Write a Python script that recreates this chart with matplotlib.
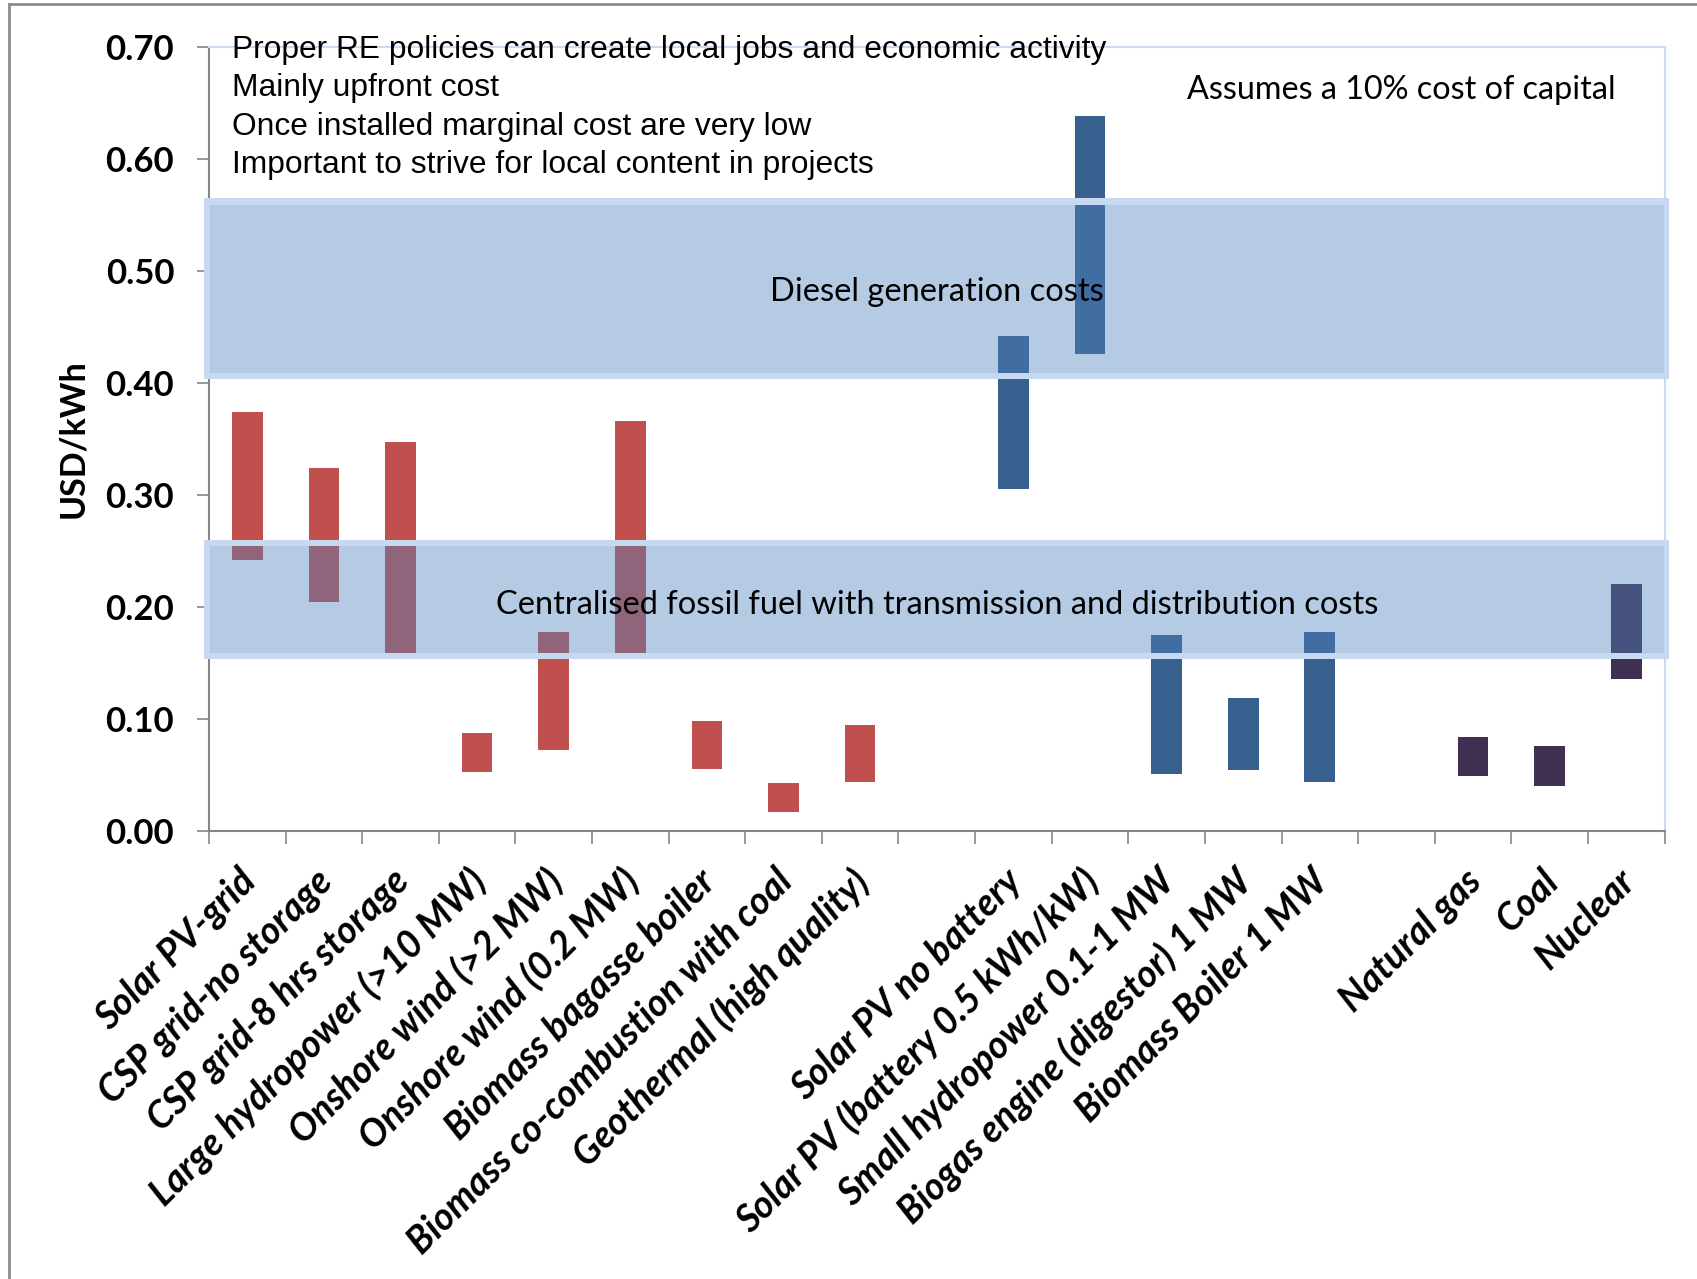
import matplotlib
matplotlib.use("Agg")
import matplotlib.pyplot as plt
from matplotlib.path import Path
from matplotlib.patches import PathPatch, Rectangle
from matplotlib.lines import Line2D
from matplotlib.transforms import ScaledTranslation

# technologies (blank entries are gaps between groups)
techs = ["Solar PV-grid", "CSP grid-no storage", "CSP grid-8 hrs storage",
         "Large hydropower (>10 MW)", "Onshore wind (>2 MW)", "Onshore wind (0.2 MW)",
         "Biomass bagasse boiler", "Biomass co-combustion with coal",
         "Geothermal (high quality)", "",
         "Solar PV no battery", "Solar PV (battery 0.5 kWh/kW)",
         "Small hydropower 0.1-1 MW", "Biogas engine (digestor) 1 MW",
         "Biomass Boiler 1 MW", "",
         "Natural gas", "Coal", "Nuclear"]
# cost ranges in USD/kWh
low = [0.242, 0.204, 0.159, 0.053, 0.072, 0.158, 0.055, 0.017, 0.044, None,
       0.305, 0.426, 0.051, 0.054, 0.044, None, 0.049, 0.040, 0.136]
high = [0.374, 0.324, 0.347, 0.087, 0.178, 0.366, 0.098, 0.043, 0.095, None,
        0.442, 0.638, 0.175, 0.119, 0.178, None, 0.084, 0.076, 0.220]
group = ["grid"] * 10 + ["offgrid"] * 6 + ["fossil"] * 3

diesel_range = (0.409, 0.559)
fossil_range = (0.159, 0.254)

notes = ["Proper RE policies can create local jobs and economic activity",
         "Mainly upfront cost",
         "Once installed marginal cost are very low",
         "Important to strive for local content in projects"]

colors = {"grid": "#C0504D", "offgrid": "#37608F", "fossil": "#403152"}

fig = plt.figure(figsize=(16.97, 12.79), dpi=100)
ax = fig.add_axes([0.1231, 0.3503, 0.8578, 0.6133])

for i, (lo, hi) in enumerate(zip(low, high)):
    if lo is None:
        continue
    ax.bar(i, hi - lo, bottom=lo, width=0.4, color=colors[group[i]], zorder=2)


def band(lo, hi, text, ty):
    x0, x1 = -0.49, 18.49
    dx, dy = 0.07, 0.0055
    outer = [(x0 - dx, lo - dy), (x1 + dx, lo - dy), (x1 + dx, hi + dy), (x0 - dx, hi + dy), (0, 0)]
    inner = [(x0, lo), (x0, hi), (x1, hi), (x1, lo), (0, 0)]
    codes = [Path.MOVETO, Path.LINETO, Path.LINETO, Path.LINETO, Path.CLOSEPOLY] * 2
    ax.add_patch(PathPatch(Path(outer + inner, codes), fc="#C7D9F0", ec="none",
                           clip_on=False, zorder=3))
    ax.add_patch(Rectangle((x0, lo), x1 - x0, hi - lo, fc="#4F81BD", alpha=0.42,
                           ec="none", clip_on=False, zorder=3))
    ax.text(9.0, ty, text, ha="center", va="center", fontsize=23.5,
            family="Lato", color="black", zorder=4)


band(*diesel_range, "Diesel generation costs", 0.481)
band(*fossil_range, "Centralised fossil fuel with transmission and distribution costs", 0.202)

for k, line in enumerate(notes):
    ax.text(-0.2, 0.697 - 0.0343 * k, line, ha="left", va="center",
            fontsize=22.9, family="Liberation Sans", zorder=4)

ax.text(15.06, 0.661, "Assumes a 10% cost of capital", ha="center", va="center",
        fontsize=23.3, family="Lato", zorder=4)

ax.set_xlim(-0.5, 18.5)
ax.set_ylim(0, 0.70)
ax.set_yticks([i / 10 for i in range(8)])
ax.set_yticklabels([f"{i / 10:.2f}" for i in range(8)], fontsize=25,
                   fontweight="bold", family="Lato")

# category labels, rotated and anchored at their right end below each category
ax.set_xticks(range(len(techs)))
ax.set_xticklabels([])
lab_tr = ax.get_xaxis_transform() + ScaledTranslation(-0.097, -0.32, fig.dpi_scale_trans)
for i, name in enumerate(techs):
    ax.text(i, 0, name, transform=lab_tr, rotation=45, ha="right", va="top",
            rotation_mode="anchor", fontsize=27, fontweight="bold",
            fontstyle="italic", family="Lato")

ax.set_xticks([i - 0.5 for i in range(len(techs) + 1)], minor=True)
ax.tick_params(axis="x", which="major", length=0)
ax.tick_params(axis="x", which="minor", length=9, width=1.2, color="#868686", direction="out")
ax.tick_params(axis="y", length=9, width=1.2, color="#868686", direction="out", pad=16)
ax.set_ylabel("USD/kWh", fontsize=24.5, fontweight="bold", family="Lato", labelpad=12)

for s in ["left", "bottom"]:
    ax.spines[s].set_color("#868686")
    ax.spines[s].set_linewidth(1.5)
for s in ["top", "right"]:
    ax.spines[s].set_color("#CCDAEE")
    ax.spines[s].set_linewidth(1.5)

# slide frame
fig.add_artist(Line2D([0.0053, 0.0053], [0, 0.997], color="#8C8C8C", lw=2))
fig.add_artist(Line2D([0.0053, 1.0], [0.997, 0.997], color="#8C8C8C", lw=2))

fig.savefig("out.png", dpi=100)
